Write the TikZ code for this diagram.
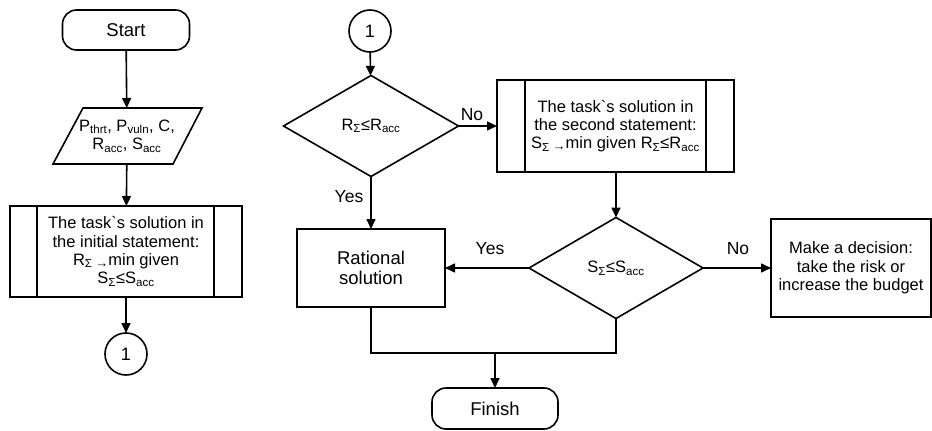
\documentclass[tikz,border=0pt]{standalone}
\usepackage{fontspec}
\setmainfont{Liberation Sans}[Ligatures=TeXOff]
\usetikzlibrary{shapes.geometric,arrows.meta,calc}
\newcommand{\minarr}{\,{\fontsize{13}{13}\selectfont\raisebox{-2pt}{→}}}
\begin{document}
\begin{tikzpicture}[x=1pt,y=-1pt,line width=1.6pt,
  every node/.style={font=\fontsize{16.5}{18.3}\selectfont, align=center, inner sep=0pt, outer sep=0pt},
  big/.style={font=\fontsize{18.5}{20}\selectfont},
  term/.style={draw, rounded corners=14pt, minimum width=127pt, minimum height=40pt, big},
  proc/.style={draw, rectangle},
  dec/.style={draw, diamond, minimum width=175pt, minimum height=101pt},
  conn/.style={draw, circle, minimum size=42pt, font=\fontsize{18}{20}\selectfont},
  arr/.style={-{Triangle[length=10pt,width=9pt]}},
  lbl/.style={font=\fontsize{17.5}{19}\selectfont}]
\useasboundingbox (0,0) rectangle (932,431);
% left column
\node[term] (start) at (126,30) {Start};
\draw (83,108) -- (202,108) -- (173,164) -- (53,164) -- cycle;
\node[minimum width=100pt, minimum height=56pt] (inp) at (127,136)
  {P\textsubscript{thrt}, P\textsubscript{vuln}, C,\\R\textsubscript{acc}, S\textsubscript{acc}};
\node[proc, minimum width=232pt, minimum height=91pt] (p1) at (126,251.5)
  {The task`s solution in\\the initial statement:\\R\textsubscript{Σ}\minarr min given\\S\textsubscript{Σ}≤S\textsubscript{acc}};
\draw ($(p1.north west)+(27,0)$) -- ($(p1.south west)+(27,0)$);
\draw ($(p1.north east)+(-28,0)$) -- ($(p1.south east)+(-28,0)$);
\node[conn] (c1) at (126,354) {1};
\draw[arr] (start) -- (inp);
\draw[arr] (inp) -- (p1);
\draw[arr] (p1) -- (c1);
% right part
\node[conn] (c2) at (370,31) {1};
\node[dec] (d1) at (371,126) {R\textsubscript{Σ}≤R\textsubscript{acc}};
\node[proc, minimum width=237pt, minimum height=92pt] (p2) at (615.5,126)
  {The task`s solution in\\the second statement:\\S\textsubscript{Σ}\minarr min given R\textsubscript{Σ}≤R\textsubscript{acc}};
\draw ($(p2.north west)+(28,0)$) -- ($(p2.south west)+(28,0)$);
\draw ($(p2.north east)+(-28,0)$) -- ($(p2.south east)+(-28,0)$);
\node[dec, minimum width=174pt] (d2) at (616,268) {S\textsubscript{Σ}≤S\textsubscript{acc}};
\node[proc, minimum width=148pt, minimum height=78pt, big] (rat) at (371,268) {Rational\\solution};
\node[proc, minimum width=160pt, minimum height=98pt] (mk) at (851,268)
  {Make a decision:\\take the risk or\\increase the budget};
\node[term, minimum width=126pt, minimum height=41pt] (fin) at (495,408.5) {Finish};
\draw[arr] (c2) -- (d1);
\draw[arr] (d1.east) -- (p2.west);
\node[lbl] (no1) at (472,115) {No};
\draw[arr] (d1.south) -- (rat.north);
\node[lbl] (yes1) at (349,197) {Yes};
\draw[arr] (p2.south -| d2.north) -- (d2.north);
\draw[arr] (d2.west) -- (rat.east);
\node[lbl] (yes2) at (490,249) {Yes};
\draw[arr] (d2.east) -- (mk.west);
\node[lbl] (no2) at (738,249) {No};
\coordinate (j) at (fin.north |- 0,353);
\draw (rat.south) -- (rat.south |- j) -- (d2.south |- j) -- (d2.south);
\draw[arr] (j) -- (fin.north);
\end{tikzpicture}
\end{document}
